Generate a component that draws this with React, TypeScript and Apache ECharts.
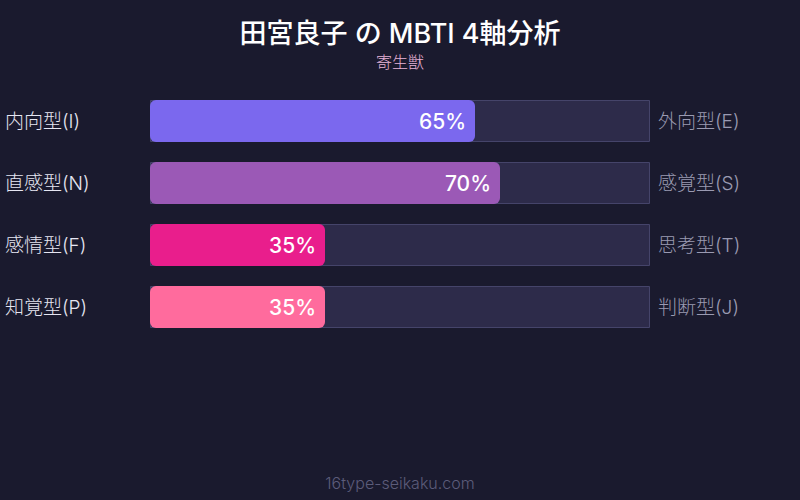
import { useRef, useEffect } from 'react'
import * as echarts from 'echarts'

const LEFT_LABELS = ['内向型(I)', '直感型(N)', '感情型(F)', '知覚型(P)']
const RIGHT_LABELS = ['外向型(E)', '感覚型(S)', '思考型(T)', '判断型(J)']
const VALUES = [65, 70, 35, 35]
const BAR_COLORS = ['#7b68ee', '#9b59b6', '#e91e8c', '#ff6b9d']
const TRACK = [100, 100, 100, 100]

const FONT = "Inter, 'Noto Sans CJK JP', sans-serif"

function buildOption(): echarts.EChartsOption {
  return {
    backgroundColor: '#1a1a2e',
    animation: false,
    title: [
      {
        text: '田宮良子 の MBTI 4軸分析',
        subtext: '寄生獣',
        left: 'center',
        top: 15,
        itemGap: 7,
        textStyle: { color: '#ffffff', fontSize: 27, fontWeight: 500, fontFamily: FONT },
        subtextStyle: { color: '#e8b4d8', fontSize: 16, fontWeight: 300, fontFamily: FONT },
      },
      {
        text: '16type-seikaku.com',
        left: 'center',
        bottom: 4,
        textStyle: { color: '#5c5c7a', fontSize: 16, fontWeight: 300, fontFamily: FONT },
      },
    ],
    grid: { left: 150, width: 500, top: 90, height: 248, containLabel: false },
    xAxis: { type: 'value', min: 0, max: 100, show: false },
    yAxis: [
      {
        type: 'category',
        data: LEFT_LABELS,
        inverse: true,
        position: 'left',
        axisLine: { show: false },
        axisTick: { show: false },
        axisLabel: { color: '#e6e6f2', fontSize: 19, fontWeight: 300, fontFamily: FONT, align: 'left', margin: 145, padding: [0, 0, 3, 0] },
      },
      {
        type: 'category',
        data: RIGHT_LABELS,
        inverse: true,
        position: 'right',
        axisLine: { show: false },
        axisTick: { show: false },
        axisLabel: { color: '#9a9ab2', fontSize: 19, fontWeight: 300, fontFamily: FONT, align: 'left', margin: 8, padding: [0, 0, 3, 0] },
      },
    ],
    series: [
      {
        type: 'bar',
        data: TRACK,
        barWidth: 42,
        silent: true,
        itemStyle: { color: '#2d2b4a', borderColor: '#45446a', borderWidth: 1 },
        z: 1,
      },
      {
        type: 'bar',
        data: VALUES.map((v, i) => ({ value: v, itemStyle: { color: BAR_COLORS[i] } })),
        barWidth: 42,
        barGap: '-100%',
        itemStyle: { borderRadius: 6 },
        label: {
          show: true,
          position: 'insideRight',
          distance: 9,
          formatter: '{c}%',
          color: '#ffffff',
          fontSize: 21,
          fontWeight: 500,
          fontFamily: FONT,
        },
        z: 2,
      },
    ],
  }
}

export default function App() {
  const ref = useRef<HTMLDivElement>(null)

  useEffect(() => {
    const el = ref.current
    if (!el) return
    const chart = echarts.init(el, null, { renderer: 'svg' })
    chart.setOption(buildOption())
    return () => chart.dispose()
  }, [])

  return <div ref={ref} style={{ width: 800, height: 500, position: 'fixed', left: 0, top: 0 }} />
}
